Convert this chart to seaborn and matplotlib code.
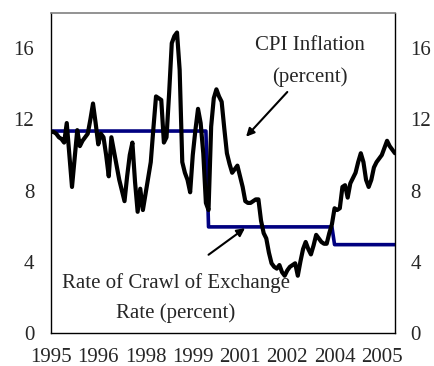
import numpy as np
import pandas as pd
import matplotlib
matplotlib.use("Agg")
import matplotlib.pyplot as plt
import seaborn as sns

# Monthly observations, January 1995 to December 2005
cpi_inflation = [
    11.3, 11.3, 11.2, 11.0, 10.9, 10.7, 11.8, 10.0, 8.2, 9.8,
    11.4, 10.5, 10.8, 11.0, 11.2, 12.0, 12.9, 11.8, 10.6, 11.2,
    11.0, 10.0, 8.8, 11.0, 10.2, 9.4, 8.6, 8.0, 7.4, 8.8,
    10.0, 10.7, 8.5, 6.8, 8.1, 6.9, 7.8, 8.7, 9.6, 11.5,
    13.3, 13.2, 13.1, 10.7, 11.0, 13.5, 16.3, 16.7, 16.9, 14.8,
    9.6, 9.0, 8.6, 7.9, 10.0, 11.4, 12.6, 11.8, 10.1, 7.3,
    6.9, 11.6, 13.2, 13.7, 13.3, 13.0, 11.5, 10.1, 9.5, 9.0,
    9.2, 9.4, 8.8, 8.2, 7.4, 7.3, 7.3, 7.4, 7.5, 7.5,
    6.3, 5.6, 5.3, 4.5, 3.9, 3.7, 3.6, 3.8, 3.4, 3.2,
    3.5, 3.7, 3.8, 3.9, 3.2, 4.0, 4.7, 5.1, 4.7, 4.4,
    4.9, 5.5, 5.3, 5.1, 5.0, 5.0, 5.6, 6.1, 7.0, 6.9,
    7.0, 8.2, 8.3, 7.6, 8.4, 8.7, 9.0, 9.6, 10.1, 9.6,
    8.6, 8.2, 8.6, 9.3, 9.6, 9.8, 10.0, 10.4, 10.8, 10.5,
    10.3, 10.1,
]
crawl_rate = [11.35] * 60 + [5.95] * 48 + [4.95] * 24

tick_positions = [0, 18, 36, 54, 72, 90, 108, 126]
tick_labels = ["1995", "1996", "1998", "1999", "2001", "2002", "2004", "2005"]
y_ticks = [0, 4, 8, 12, 16]

df = pd.DataFrame({
    "month": np.arange(len(cpi_inflation)),
    "cpi": cpi_inflation,
    "crawl": crawl_rate,
})

sns.set_style("white")
plt.rcParams["font.family"] = ["Liberation Serif", "DejaVu Serif"]
plt.rcParams["font.size"] = 15

fig = plt.figure(figsize=(4.34, 3.66), dpi=100)
ax = fig.add_axes([0.1175, 0.0915, 0.7925, 0.873])

sns.lineplot(data=df, x="month", y="crawl", ax=ax, color="#000080", linewidth=2.6)
sns.lineplot(data=df, x="month", y="cpi", ax=ax, color="black", linewidth=3.0)

ax.set_xlim(0, len(cpi_inflation) - 1)
ax.set_ylim(0, 18)
ax.set_xticks(tick_positions)
ax.set_xticklabels(tick_labels)
ax.set_yticks(y_ticks)
ax.set_xlabel("")
ax.set_ylabel("")
ax.tick_params(axis="x", length=0, pad=11, labelsize=15)
ax.tick_params(axis="y", length=0, pad=12, labelsize=15)

for side in ["left", "right", "bottom"]:
    ax.spines[side].set_color("black")
    ax.spines[side].set_linewidth(1.0)
ax.spines["top"].set_color("#808080")
ax.spines["top"].set_linewidth(1.2)

# Mirror the value axis on the right-hand side
ax2 = ax.twinx()
ax2.set_ylim(ax.get_ylim())
ax2.set_yticks(y_ticks)
ax2.tick_params(axis="y", length=0, pad=11, labelsize=15)
for s in ax2.spines.values():
    s.set_visible(False)

# Series annotations
ax.text(98.6, 16.15, "CPI Inflation", ha="center", va="center", fontsize=15)
ax.text(98.6, 14.38, "(percent)", ha="center", va="center", fontsize=15)
ax.annotate("", xy=(74.3, 11.03), xytext=(90.0, 13.55),
            arrowprops=dict(arrowstyle="-|>", color="black", lw=1.5,
                            mutation_scale=12, shrinkA=0, shrinkB=0))

ax.text(47.6, 2.78, "Rate of Crawl of Exchange", ha="center", va="center", fontsize=15)
ax.text(47.6, 1.08, "Rate (percent)", ha="center", va="center", fontsize=15)
ax.annotate("", xy=(73.9, 5.88), xytext=(60.0, 4.38),
            arrowprops=dict(arrowstyle="-|>", color="black", lw=1.5,
                            mutation_scale=12, shrinkA=0, shrinkB=0))

fig.savefig("out.png", dpi=100)
